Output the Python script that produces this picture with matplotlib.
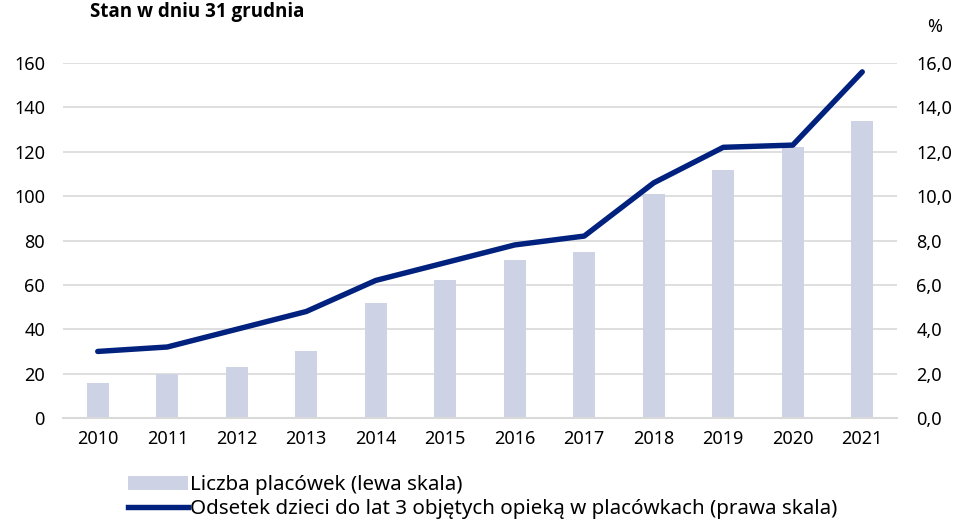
import matplotlib
matplotlib.use("Agg")
import matplotlib.pyplot as plt
from matplotlib.patches import Patch
from matplotlib.lines import Line2D

plt.rcParams['font.family'] = ['Noto Sans', 'DejaVu Sans']

years = ["2010", "2011", "2012", "2013", "2014", "2015", "2016", "2017", "2018", "2019", "2020", "2021"]
placowki = [16, 20, 23, 30, 52, 62, 71, 75, 101, 112, 122, 134]
odsetek = [3.0, 3.2, 4.0, 4.8, 6.2, 7.0, 7.8, 8.2, 10.6, 12.2, 12.3, 15.6]
left_ticks = [0, 20, 40, 60, 80, 100, 120, 140, 160]
right_ticks = [0, 2, 4, 6, 8, 10, 12, 14, 16]
right_labels = ["0,0", "2,0", "4,0", "6,0", "8,0", "10,0", "12,0", "14,0", "16,0"]
bar_label = "Liczba placówek (lewa skala)"
line_label = "Odsetek dzieci do lat 3 objętych opieką w placówkach (prawa skala)"

bar_color = "#cdd3e5"
line_color = "#00217e"

fig = plt.figure(figsize=(9.6, 5.2), dpi=100)
ax = fig.add_axes([63/960, 1 - 418/520, (897-63)/960, (418-63)/520])
x = list(range(len(years)))
ax.bar(x, placowki, width=0.32, color=bar_color, zorder=2)
ax.set_ylim(0, 160)
ax.set_xlim(-0.5, 11.5)
ax.set_yticks(left_ticks)
ax.set_xticks(x)
ax.set_xticklabels(years)
ax.grid(axis='y', color='#d9d9d9', linewidth=1.2, zorder=0)
ax.set_axisbelow(True)
for s in ['top', 'right', 'left']:
    ax.spines[s].set_visible(False)
ax.spines['bottom'].set_color('#d9d9d9')
ax.spines['bottom'].set_linewidth(1.5)
ax.tick_params(axis='both', length=0, labelsize=13, colors='#000000')
ax.tick_params(axis='y', pad=13)
ax.tick_params(axis='x', pad=9)

ax2 = ax.twinx()
ax2.plot(x, odsetek, color=line_color, linewidth=3.9, solid_capstyle='round', zorder=3)
ax2.set_ylim(0, 16)
ax2.set_yticks(right_ticks)
ax2.set_yticklabels(right_labels)
for s in ['top', 'right', 'left', 'bottom']:
    ax2.spines[s].set_visible(False)
ax2.tick_params(axis='y', length=0, labelsize=13, pad=14)

fig.text(90/960, 1 - 2/520, "Stan w dniu 31 grudnia", fontsize=13.5, fontweight='bold',
         family=['Open Sans', 'DejaVu Sans'], va='top', ha='left')
fig.text(935/960, 1 - 27/520, "%", fontsize=13, va='center', ha='center')

handles = [Patch(facecolor=bar_color, edgecolor='none'),
           Line2D([0], [0], color=line_color, linewidth=3.9)]
fig.legend(handles, [bar_label, line_label], loc='upper left',
           bbox_to_anchor=(128/960, 1 - 475/520), frameon=False,
           fontsize=14.8, handlelength=2.9, handletextpad=0.1,
           labelspacing=0.2, borderaxespad=0, borderpad=0)

fig.savefig("out.png", dpi=100)
